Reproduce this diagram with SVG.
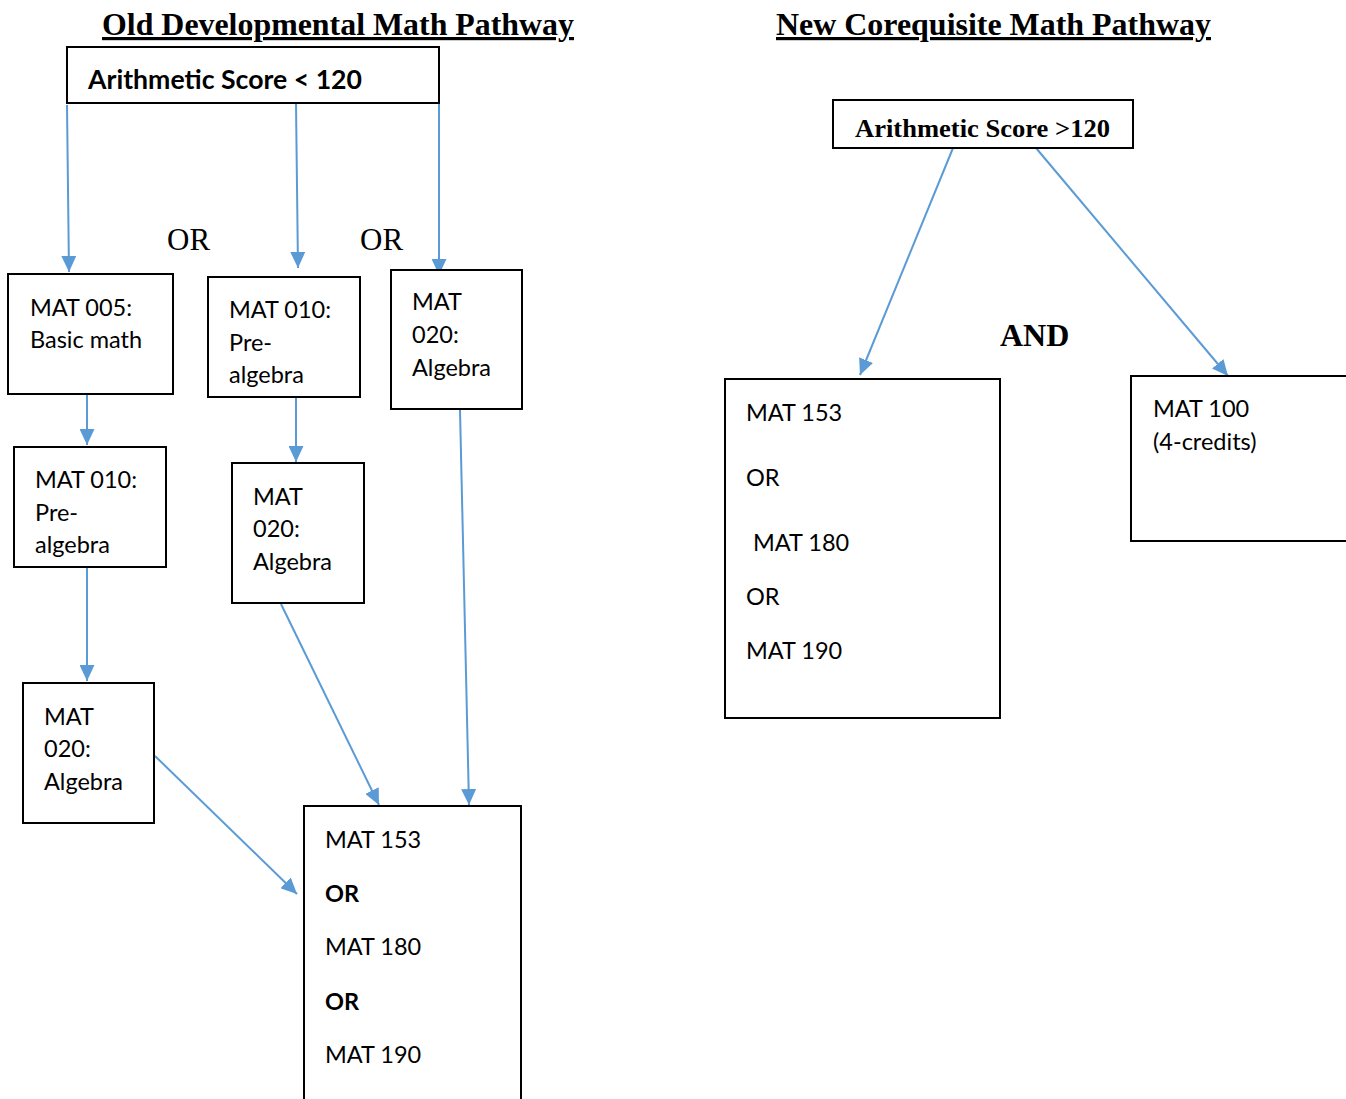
<svg xmlns="http://www.w3.org/2000/svg" width="1346" height="1099" viewBox="0 0 1346 1099">
<style>
.box{fill:#fff;stroke:#000;stroke-width:2}
.t{font-family:Lato,"Liberation Sans",sans-serif;font-size:23.5px;fill:#000}
.b{font-weight:bold}
.h{font-family:"Liberation Serif",serif;font-weight:bold;font-size:32px;text-decoration:underline;fill:#000}
.s{font-family:"Liberation Serif",serif;font-size:31px;fill:#000}
.c{stroke:#5B9BD5;stroke-width:2;fill:none;marker-end:url(#ah)}
</style>
<defs>
<marker id="ah" markerUnits="userSpaceOnUse" markerWidth="17" markerHeight="15" refX="16" refY="7.5" orient="auto" viewBox="0 0 17 15">
<path d="M0,0 L16,7.5 L0,15 z" fill="#5B9BD5"/>
</marker>
</defs>
<rect width="1346" height="1099" fill="#fff"/>
<text class="h" x="102" y="35" textLength="472" lengthAdjust="spacingAndGlyphs">Old Developmental Math Pathway</text>
<text class="h" x="776" y="35" textLength="435" lengthAdjust="spacingAndGlyphs">New Corequisite Math Pathway</text>
<text class="s" x="167" y="250">OR</text>
<text class="s" x="360" y="250">OR</text>
<text class="s b" x="1000" y="346" style="font-size:32px">AND</text>
<g id="connectors">
<line class="c" x1="67" y1="105" x2="69" y2="272"/>
<line class="c" x1="296" y1="103" x2="298" y2="268"/>
<line class="c" x1="439" y1="103" x2="439" y2="275"/>
<line class="c" x1="87" y1="395" x2="87" y2="445"/>
<line class="c" x1="296" y1="398" x2="296" y2="462"/>
<line class="c" x1="87" y1="567" x2="87" y2="681"/>
<line class="c" x1="155" y1="756" x2="297" y2="894"/>
<line class="c" x1="281" y1="604" x2="379" y2="805"/>
<line class="c" x1="460" y1="410" x2="469" y2="805"/>
<line class="c" x1="953" y1="148" x2="860" y2="375"/>
<line class="c" x1="1036" y1="148" x2="1228" y2="376"/>
</g>
<g id="score-low">
<rect class="box" x="67" y="47" width="372" height="56"/>
<text class="t b" x="88" y="89" style="font-size:26.5px" textLength="274" lengthAdjust="spacingAndGlyphs">Arithmetic Score &lt; 120</text>
</g>
<g id="mat005">
<rect class="box" x="8" y="274" width="165" height="120"/>
<text class="t" x="30" y="316">MAT 005:</text>
<text class="t" x="30" y="348">Basic math</text>
</g>
<g id="mat010a">
<rect class="box" x="208" y="277" width="152" height="120"/>
<text class="t" x="229" y="318">MAT 010:</text>
<text class="t" x="229" y="351">Pre-</text>
<text class="t" x="229" y="383">algebra</text>
</g>
<g id="mat020a">
<rect class="box" x="391" y="270" width="131" height="139"/>
<text class="t" x="412" y="310">MAT</text>
<text class="t" x="412" y="343">020:</text>
<text class="t" x="412" y="376">Algebra</text>
</g>
<g id="mat010b">
<rect class="box" x="14" y="447" width="152" height="120"/>
<text class="t" x="35" y="488">MAT 010:</text>
<text class="t" x="35" y="521">Pre-</text>
<text class="t" x="35" y="553">algebra</text>
</g>
<g id="mat020b">
<rect class="box" x="232" y="463" width="132" height="140"/>
<text class="t" x="253" y="505">MAT</text>
<text class="t" x="253" y="537">020:</text>
<text class="t" x="253" y="570">Algebra</text>
</g>
<g id="mat020c">
<rect class="box" x="23" y="683" width="131" height="140"/>
<text class="t" x="44" y="725">MAT</text>
<text class="t" x="44" y="757">020:</text>
<text class="t" x="44" y="790">Algebra</text>
</g>
<g id="old-result">
<rect class="box" x="304" y="806" width="217" height="300"/>
<text class="t" x="325" y="848">MAT 153</text>
<text class="t b" x="325" y="902">OR</text>
<text class="t" x="325" y="955">MAT 180</text>
<text class="t b" x="325" y="1010">OR</text>
<text class="t" x="325" y="1063">MAT 190</text>
</g>
<g id="score-high">
<rect class="box" x="833" y="100" width="300" height="48"/>
<text class="s b" x="855" y="137" style="font-size:25.5px" textLength="255" lengthAdjust="spacingAndGlyphs">Arithmetic Score &gt;120</text>
</g>
<g id="new-result">
<rect class="box" x="725" y="379" width="275" height="339"/>
<text class="t" x="746" y="421">MAT 153</text>
<text class="t" x="746" y="486">OR</text>
<text class="t" x="753" y="551">MAT 180</text>
<text class="t" x="746" y="605">OR</text>
<text class="t" x="746" y="659">MAT 190</text>
</g>
<g id="mat100">
<rect class="box" x="1131" y="376" width="230" height="165"/>
<text class="t" x="1153" y="417">MAT 100</text>
<text class="t" x="1153" y="450">(4-credits)</text>
</g>
</svg>
